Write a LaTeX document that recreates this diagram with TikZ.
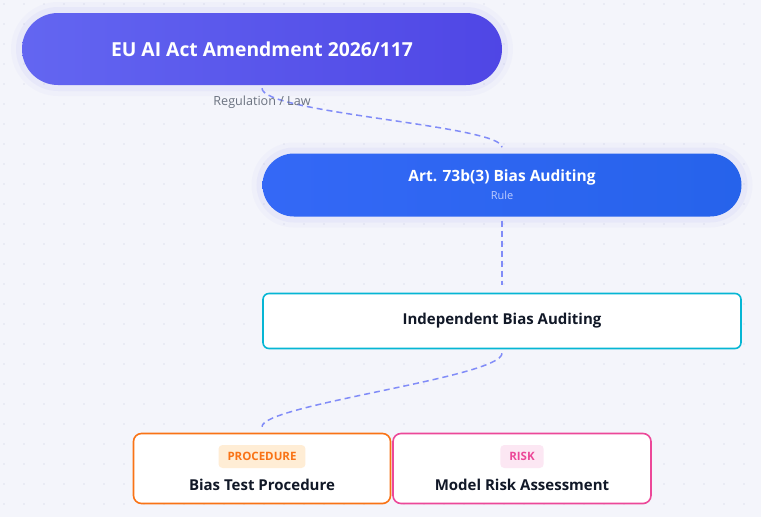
\documentclass[tikz,border=0pt]{standalone}
\usepackage{fontspec}
\setmainfont{Open Sans}
\definecolor{bgCol}{RGB}{244,245,251}
\definecolor{dotCol}{RGB}{222,225,238}
\definecolor{topA}{RGB}{99,102,241}
\definecolor{topB}{RGB}{79,70,229}
\definecolor{ruleA}{RGB}{52,104,246}
\definecolor{ruleB}{RGB}{38,99,235}
\definecolor{ruleSub}{RGB}{190,205,255}
\definecolor{linkCol}{RGB}{129,140,248}
\definecolor{cyanCol}{RGB}{6,182,212}
\definecolor{orangeCol}{RGB}{249,115,22}
\definecolor{orangeBg}{RGB}{255,237,213}
\definecolor{pinkCol}{RGB}{236,72,153}
\definecolor{pinkBg}{RGB}{252,231,243}
\definecolor{darkText}{RGB}{17,24,39}
\definecolor{grayText}{RGB}{107,114,128}
\tikzstyle{pillNode} = [rectangle, text centered, text=white, preaction={draw=topA, line width=22pt, draw opacity=0.03}, preaction={draw=topA, line width=12pt, draw opacity=0.05}]
\tikzstyle{pillTop} = [pillNode, minimum width=480pt, minimum height=72pt, rounded corners=36pt, left color=topA, right color=topB, font=\fontsize{19.3}{23}\selectfont\bfseries]
\tikzstyle{pillRule} = [pillNode, minimum width=479pt, minimum height=63pt, rounded corners=31.5pt, left color=ruleA, right color=ruleB, align=center, font=\fontsize{15.5}{18}\selectfont\bfseries]
\tikzstyle{boxNode} = [rectangle, fill=white, line width=1.6pt, rounded corners=6pt, text=darkText, font=\fontsize{15}{18}\selectfont\bfseries]
\tikzstyle{boxCyan} = [boxNode, draw=cyanCol, minimum width=478pt, minimum height=55pt]
\tikzstyle{boxOrange} = [boxNode, draw=orangeCol, minimum width=257pt, minimum height=70pt, rounded corners=8pt]
\tikzstyle{boxPink} = [boxNode, draw=pinkCol, minimum width=258pt, minimum height=70pt, rounded corners=8pt]
\tikzstyle{tagNode} = [rectangle, rounded corners=4pt, minimum height=23pt, inner xsep=9pt, font=\fontsize{11.5}{13}\selectfont\bfseries]
\tikzstyle{titleNode} = [text=darkText, font=\fontsize{15}{18}\selectfont\bfseries]
\tikzstyle{subNode} = [text=grayText, font=\fontsize{12.6}{15}\selectfont]
\tikzstyle{link} = [line width=1.5pt, draw=linkCol, dash pattern=on 6pt off 4pt]

\begin{document}
\begin{tikzpicture}[node distance=136pt]
        % background and dot grid
        \fill[bgCol] (0,0) rectangle (761pt,-517pt);
        \useasboundingbox (0,0) rectangle (761pt,-517pt);
        \foreach \i in {0,...,37}
            \foreach \j in {0,...,25}
                \fill[dotCol] (\i*20pt+4pt,-\j*20pt-4pt) circle (0.8pt);

        \node (law) [pillTop] at (262pt,-49pt) {EU AI Act Amendment 2026/117};
        \node (rule) [pillRule, below of=law, xshift=240pt] {Art. 73b(3) Bias Auditing\\[0pt]{\fontsize{11}{13}\selectfont\mdseries\color{ruleSub}Rule}};
        \node (audit) [boxCyan, below of=rule] {Independent Bias Auditing};
        \node (proc) [boxOrange, below of=audit, xshift=-240pt, yshift=-11.5pt] {};
        \node (risk) [boxPink, right of=proc, xshift=124pt] {};

        % tags and titles inside the bottom boxes
        \node (procTag) [tagNode, fill=orangeBg, text=orangeCol] at ([yshift=12pt]proc.center) {PROCEDURE};
        \node (procTitle) [titleNode] at ([yshift=-16pt]proc.center) {Bias Test Procedure};
        \node (riskTag) [tagNode, fill=pinkBg, text=pinkCol] at ([yshift=12pt]risk.center) {RISK};
        \node (riskTitle) [titleNode] at ([yshift=-16pt]risk.center) {Model Risk Assessment};

        \draw [link, shorten <=3pt, shorten >=6pt] (law.south) .. controls +(0,-28pt) and +(0,28pt) .. (rule.north);
        \node (lawType) [subNode] at ([yshift=-17pt]law.south) {Regulation / Law};
        \draw [link, shorten <=4pt, shorten >=8pt] (rule) -- (audit);
        \draw [link, shorten <=4pt, shorten >=6pt] (audit.south) .. controls +(0,-28pt) and +(0,28pt) .. (proc.north);
    \end{tikzpicture}
\end{document}
